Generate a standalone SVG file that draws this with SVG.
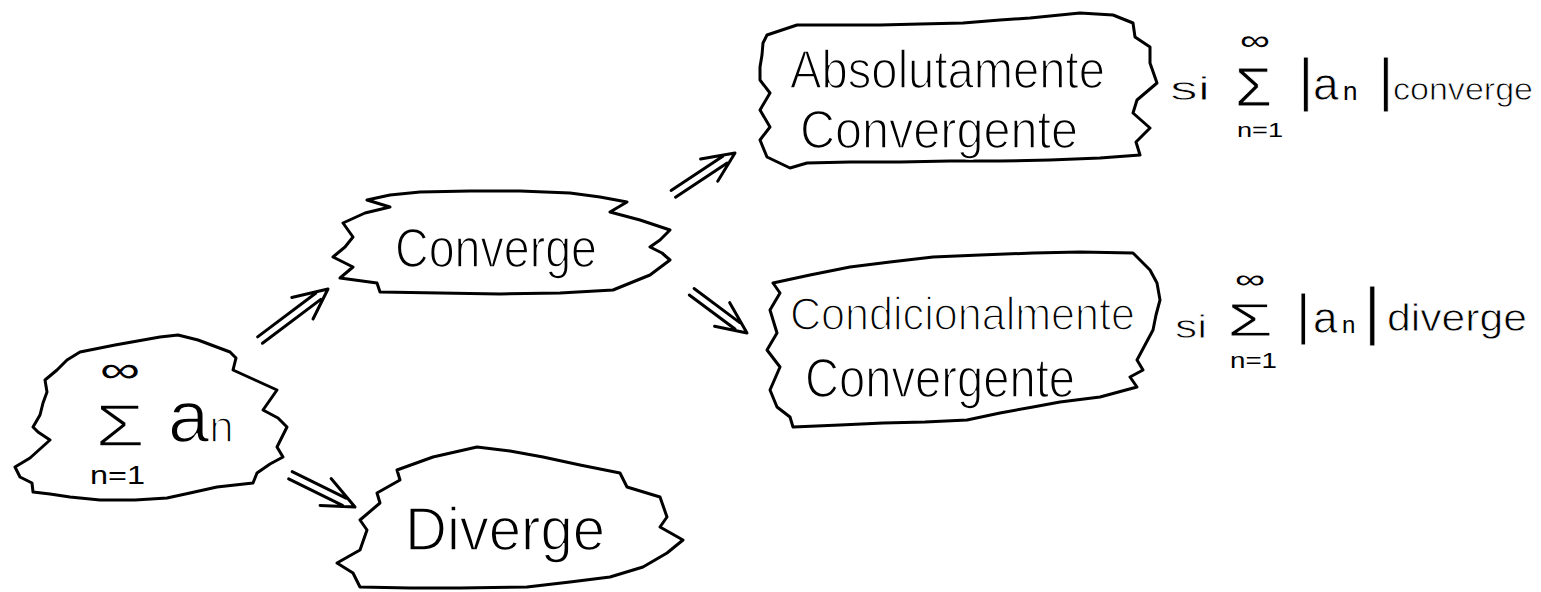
<svg xmlns="http://www.w3.org/2000/svg" width="1541" height="592" viewBox="0 0 1541 592">
<style>
.blob{fill:none;stroke:#000;stroke-width:3;stroke-linejoin:round;stroke-linecap:round}
.arr{fill:none;stroke:#000;stroke-width:3;stroke-linecap:round;stroke-linejoin:round}
.t{font-family:"Liberation Sans",Arial,sans-serif;fill:#000}
.big{stroke:#fff;stroke-width:1.6}
.sm{stroke:#fff;stroke-width:0.8}
.ns{stroke:none}
</style>
<rect width="1541" height="592" fill="#fff"/>
<g id="connectors">
<path class="arr" transform="translate(328,289) rotate(-36.9)" d="M-85,-4 L-12,-4 M-85,4 L-12,4 M-34,-15 L0,0 L-30,15"/>
<path class="arr" transform="translate(735,153) rotate(-33.5)" d="M-74,-4 L-12,-4 M-74,4 L-12,4 M-32,-14 L0,0 L-30,14"/>
<path class="arr" transform="translate(747,333) rotate(36.7)" d="M-69,-4 L-12,-4 M-69,4 L-12,4 M-32,-14 L0,0 L-30,14"/>
<path class="arr" transform="translate(355,507) rotate(26.2)" d="M-72,-4 L-12,-4 M-72,4 L-12,4 M-34,-15 L0,0 L-32,14"/>
</g>
<g id="node-sum">
<path class="blob" d="M67,360 L80,352 L115,345 L160,337 L178,335 L198,340 L230,352 L236,358 L233,370 L255,380 L277,390 L270,400 L263,410 L278,418 L287,427 L282,437 L277,447 L283,457 L270,464 L257,473 L253,483 L235,485 L217,487 L190,493 L167,498 L135,500 L100,500 L70,497 L50,494 L33,492 L32,483 L20,477 L15,467 L30,458 L50,440 L38,432 L33,427 L40,415 L43,403 L47,392 L45,380 L57,370 Z"/>
<text class="t" x="100" y="382" font-size="36" textLength="40" lengthAdjust="spacingAndGlyphs">∞</text>
<text class="t big" x="95" y="446" font-size="60" textLength="50" lengthAdjust="spacingAndGlyphs">Σ</text>
<text class="t" x="90" y="484" font-size="25" textLength="55" lengthAdjust="spacingAndGlyphs">n=1</text>
<text class="t big" x="168" y="442" font-size="74">a<tspan font-size="44">n</tspan></text>
</g>
<g id="node-converge">
<path class="blob" d="M367,200 L390,195 L420,192 L470,191 L520,191 L570,193 L600,197 L627,202 L610,212 L640,220 L670,230 L660,240 L650,247 L662,253 L670,260 L650,275 L613,290 L560,293 L500,294 L440,293 L380,292 L377,283 L340,278 L353,267 L333,257 L345,247 L353,237 L343,223 L365,213 L390,207 Z"/>
<text class="t big" x="395" y="267" font-size="56" textLength="202" lengthAdjust="spacingAndGlyphs">Converge</text>
</g>
<g id="node-absolutamente">
<path class="blob" d="M767,35 L797,25 L840,25 L880,25 L920,24 L963,23 L1000,20 L1030,18 L1080,13 L1113,15 L1133,23 L1135,37 L1150,47 L1150,63 L1157,83 L1137,100 L1133,113 L1150,128 L1136,142 L1140,155 L1100,158 L1050,160 L1000,161 L950,161 L900,162 L850,162 L807,163 L790,168 L767,157 L760,140 L770,127 L760,110 L770,93 L760,80 L760,67 L762,55 L763,43 Z"/>
<text class="t big" x="790" y="88" font-size="54" textLength="315" lengthAdjust="spacingAndGlyphs">Absolutamente</text>
<text class="t big" x="800" y="148" font-size="54" textLength="278" lengthAdjust="spacingAndGlyphs">Convergente</text>
</g>
<g id="node-condicionalmente">
<path class="blob" d="M773,283 L810,275 L850,267 L890,262 L933,257 L980,255 L1033,253 L1080,252 L1133,253 L1150,270 L1157,283 L1160,300 L1156,315 L1153,330 L1145,345 L1137,360 L1143,370 L1130,377 L1137,387 L1100,397 L1060,402 L1033,407 L1000,413 L967,420 L925,422 L883,423 L840,425 L793,427 L790,417 L777,407 L770,390 L780,367 L767,350 L777,333 L770,310 L780,293 Z"/>
<text class="t big" x="790" y="330" font-size="46" textLength="345" lengthAdjust="spacingAndGlyphs">Condicionalmente</text>
<text class="t big" x="805" y="397" font-size="56" textLength="270" lengthAdjust="spacingAndGlyphs">Convergente</text>
</g>
<g id="node-diverge">
<path class="blob" d="M397,470 L433,457 L455,452 L477,447 L510,451 L543,457 L580,465 L620,473 L627,487 L660,497 L667,517 L660,527 L683,540 L667,553 L643,567 L610,577 L570,582 L527,587 L460,588 L410,588 L360,587 L353,573 L337,563 L360,550 L367,530 L360,520 L380,503 L377,493 L400,480 Z"/>
<text class="t big" x="405" y="550" font-size="62" textLength="200" lengthAdjust="spacingAndGlyphs">Diverge</text>
</g>
<g id="label-abs">
<text class="t sm" x="1170" y="100" font-size="34" textLength="40" lengthAdjust="spacingAndGlyphs">si</text>
<text class="t" x="1240" y="50" font-size="28" textLength="30" lengthAdjust="spacingAndGlyphs">∞</text>
<text class="t sm" x="1235" y="106" font-size="56" textLength="37" lengthAdjust="spacingAndGlyphs">Σ</text>
<text class="t" x="1237" y="137" font-size="20" textLength="46" lengthAdjust="spacingAndGlyphs">n=1</text>
<text class="t sm" y="100" font-size="60"><tspan x="1298">|</tspan><tspan x="1313" font-size="46">a</tspan><tspan class="ns" x="1343" font-size="26">n</tspan><tspan x="1378">|</tspan></text>
<text class="t sm" x="1393" y="100" font-size="32" textLength="140" lengthAdjust="spacingAndGlyphs">converge</text>
</g>
<g id="label-cond">
<text class="t sm" x="1175" y="338" font-size="34" textLength="32" lengthAdjust="spacingAndGlyphs">si</text>
<text class="t" x="1235" y="288" font-size="26" textLength="30" lengthAdjust="spacingAndGlyphs">∞</text>
<text class="t sm" x="1227" y="336" font-size="46" textLength="46" lengthAdjust="spacingAndGlyphs">Σ</text>
<text class="t" x="1230" y="368" font-size="22" textLength="47" lengthAdjust="spacingAndGlyphs">n=1</text>
<text class="t sm" y="333" font-size="56"><tspan x="1296">|</tspan><tspan x="1313" font-size="44">a</tspan><tspan class="ns" x="1342" font-size="24">n</tspan><tspan x="1364" font-size="64">|</tspan></text>
<text class="t sm" x="1387" y="331" font-size="38" textLength="140" lengthAdjust="spacingAndGlyphs">diverge</text>
</g>
</svg>
